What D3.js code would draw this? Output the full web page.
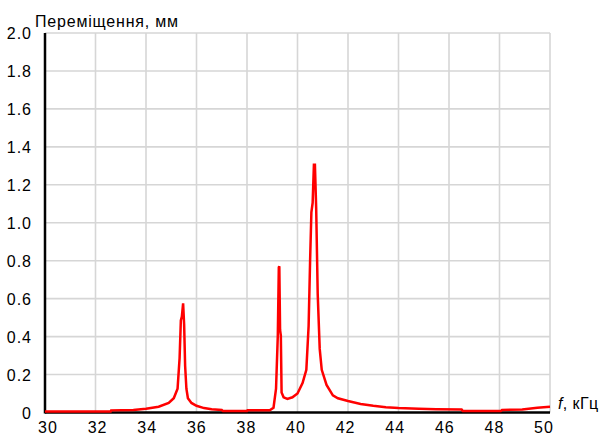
<!DOCTYPE html>
<html>
<head>
<meta charset="utf-8">
<script src="https://cdn.jsdelivr.net/npm/d3@7"></script>
<style>
  body { margin: 0; background: #fff; }
  text { font-family: Arial, "Liberation Sans", sans-serif; fill: #000; }
</style>
</head>
<body>
<div id="chart"></div>
<script>
const freq = [30, 32.6, 32.62, 33.5, 34.0, 34.5, 34.9, 35.1, 35.25, 35.33, 35.38, 35.42, 35.47, 35.51, 35.55, 35.6, 35.66, 35.8, 36.0, 36.3, 36.6, 37.0, 37.05, 38.0, 38.02, 38.9, 39.05, 39.15, 39.22, 39.26, 39.28, 39.31, 39.34, 39.37, 39.45, 39.6, 39.8, 40.0, 40.2, 40.35, 40.44, 40.5, 40.55, 40.6, 40.65, 40.69, 40.74, 40.8, 40.88, 40.96, 41.15, 41.4, 41.6, 42.0, 42.5, 43.0, 43.5, 44.0, 44.8, 45.5, 46.5, 46.55, 48.05, 48.1, 48.9, 49.5, 50];
const disp = [0, 0, 0.006, 0.008, 0.014, 0.025, 0.045, 0.07, 0.12, 0.28, 0.48, 0.5, 0.57, 0.46, 0.24, 0.12, 0.07, 0.045, 0.03, 0.018, 0.012, 0.008, 0.002, 0.002, 0.006, 0.006, 0.02, 0.12, 0.4, 0.76, 0.765, 0.43, 0.4, 0.1, 0.075, 0.066, 0.075, 0.095, 0.15, 0.22, 0.45, 0.8, 1.05, 1.1, 1.3, 1.3, 1.07, 0.62, 0.33, 0.22, 0.14, 0.085, 0.07, 0.055, 0.04, 0.03, 0.022, 0.018, 0.015, 0.012, 0.01, 0.002, 0.002, 0.008, 0.01, 0.02, 0.025];
const xTicks = [30, 32, 34, 36, 38, 40, 42, 44, 46, 48, 50];
const yTicks = [0, 0.2, 0.4, 0.6, 0.8, 1.0, 1.2, 1.4, 1.6, 1.8, 2.0];

const width = 601, height = 437;
const mLeft = 45, mRight = 550, mTop = 33, mBottom = 412.5;

const svg = d3.select("#chart").append("svg")
  .attr("width", width).attr("height", height);

const x = d3.scaleLinear().domain([30, 50]).range([mLeft, mRight]);
const y = d3.scaleLinear().domain([0, 2]).range([mBottom, mTop]);
// tick labels sit a little inside the gridlines in the original
const xLab = d3.scaleLinear().domain([30, 50]).range([48, 544]);

// gridlines
svg.append("g").attr("stroke", "#d6d6d6").attr("stroke-width", 1.6)
  .selectAll("line").data(xTicks.slice(1)).join("line")
  .attr("x1", d => x(d)).attr("x2", d => x(d))
  .attr("y1", mTop).attr("y2", mBottom);
svg.append("g").attr("stroke", "#d6d6d6").attr("stroke-width", 1.6)
  .selectAll("line").data(yTicks.slice(1)).join("line")
  .attr("x1", mLeft).attr("x2", mRight)
  .attr("y1", d => y(d)).attr("y2", d => y(d));

// axes
svg.append("line").attr("x1", mLeft).attr("x2", mLeft)
  .attr("y1", mTop).attr("y2", mBottom + 1)
  .attr("stroke", "#000").attr("stroke-width", 2.5);
svg.append("line").attr("x1", mLeft).attr("x2", mRight)
  .attr("y1", mBottom).attr("y2", mBottom)
  .attr("stroke", "#000").attr("stroke-width", 2.5);

// tick labels
svg.append("g").selectAll("text").data(yTicks).join("text")
  .attr("x", 32).attr("y", d => y(d) + 6)
  .attr("text-anchor", "end").attr("font-size", 16)
  .attr("letter-spacing", 1)
  .text(d => d === 0 ? "0" : d.toFixed(1));
svg.append("g").selectAll("text").data(xTicks).join("text")
  .attr("x", d => xLab(d)).attr("y", 433)
  .attr("text-anchor", "middle").attr("font-size", 16)
  .attr("letter-spacing", 1)
  .text(d => d);

// titles
svg.append("text").attr("x", 35).attr("y", 26.5)
  .attr("font-size", 16).attr("letter-spacing", 0.8)
  .text("Переміщення, мм");
const fl = svg.append("text").attr("x", 558).attr("y", 409)
  .attr("font-size", 16).attr("letter-spacing", 0.4);
fl.append("tspan").attr("font-style", "italic").text("f");
fl.append("tspan").text(", кГц");

// curve
const pts = freq.map((f, i) => [f, disp[i]]);
const line = d3.line().x(d => x(d[0])).y(d => y(d[1]) - 1);
svg.append("path").datum(pts)
  .attr("d", line)
  .attr("fill", "none")
  .attr("stroke", "#ff0000")
  .attr("stroke-width", 2.5)
  .attr("stroke-linejoin", "miter");
</script>
</body>
</html>
